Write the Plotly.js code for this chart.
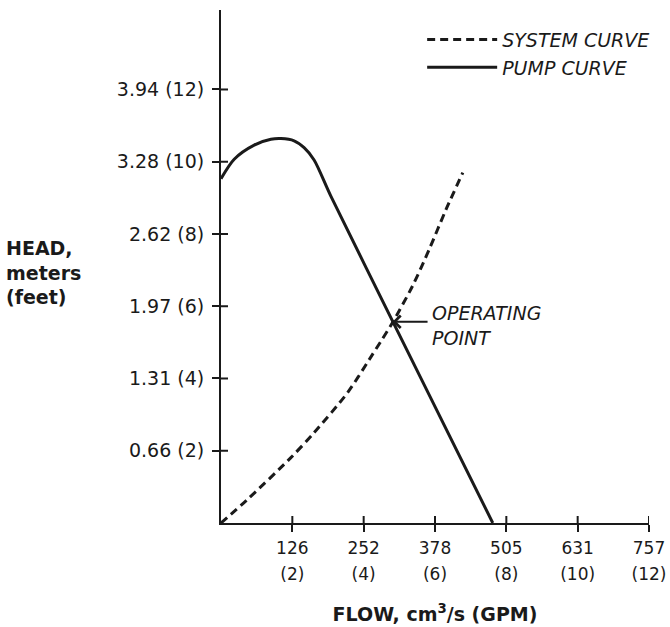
<!DOCTYPE html>
<html><head><meta charset="utf-8">
<script src="https://cdn.plot.ly/plotly-3.0.1.min.js"></script>
<style>html,body{margin:0;padding:0;background:#fff}#chart{width:670px;height:627px}</style>
</head><body><div id="chart"></div>
<script>
// ---- data (flow in GPM, head in feet) ----
const flowTickGpm = [2, 4, 6, 8, 10, 12];
const flowTickCm3s = ['126', '252', '378', '505', '631', '757'];
const flowTickGpmText = ['(2)', '(4)', '(6)', '(8)', '(10)', '(12)'];
const headTickFt = [2, 4, 6, 8, 10, 12];
const headTickText = ['0.66 (2)', '1.31 (4)', '1.97 (6)', '2.62 (8)', '3.28 (10)', '3.94 (12)'];

const systemFlow = [0, 0.74, 1.96, 2.61, 3.55, 4.16, 4.49, 4.81, 5.37, 5.84, 6.31, 6.78];
const systemHead = [0, 0.65, 1.81, 2.50, 3.61, 4.53, 5.04, 5.55, 6.56, 7.58, 8.68, 9.70];

const pumpFlow = [0, 0.37, 0.93, 1.40, 1.68, 2.05, 2.33, 2.61, 3.08, 4.81, 7.62];
const pumpHead = [9.53, 10.07, 10.46, 10.62, 10.64, 10.58, 10.39, 10.05, 9.05, 5.59, 0];

const operatingFlow = 4.81;
const operatingHead = 5.57;

const seriesNames = ['SYSTEM CURVE', 'PUMP CURVE'];

// ---- styling ----
const INK = '#1a1a1a';
const FONT = 'DejaVu Sans, Verdana, sans-serif';

const traces = [
  {
    x: systemFlow, y: systemHead, name: seriesNames[0], type: 'scatter', mode: 'lines',
    line: {color: INK, width: 3, dash: '8px,5px', shape: 'spline', smoothing: 0.8},
    legendgroup: 'a', hoverinfo: 'skip'
  },
  {
    x: pumpFlow, y: pumpHead, name: seriesNames[1], type: 'scatter', mode: 'lines',
    line: {color: INK, width: 3, shape: 'spline', smoothing: 0.8},
    legendgroup: 'b', hoverinfo: 'skip'
  },
  { x: [], y: [], xaxis: 'x2', yaxis: 'y', showlegend: false, hoverinfo: 'skip', type: 'scatter' }
];

const shapes = [];
headTickFt.forEach(v => shapes.push({
  type: 'line', xref: 'x', yref: 'y', xsizemode: 'pixel', xanchor: 0,
  x0: 0, x1: 7, y0: v, y1: v, line: {color: INK, width: 2}, layer: 'above'
}));
flowTickGpm.forEach(v => shapes.push({
  type: 'line', xref: 'x', yref: 'y', ysizemode: 'pixel', yanchor: 0,
  x0: v, x1: v, y0: 0, y1: 7, line: {color: INK, width: 2}, layer: 'above'
}));

const layout = {
  width: 670, height: 627,
  margin: {l: 221, r: 21, t: 10, b: 104},
  paper_bgcolor: '#fff', plot_bgcolor: '#fff',
  font: {family: FONT, color: INK, size: 19},
  showlegend: true,
  legend: {
    x: 0.47, xanchor: 'left', y: 0.979, yanchor: 'top',
    font: {family: FONT, size: 19, style: 'italic', color: INK},
    traceorder: 'grouped', tracegroupgap: 0, itemwidth: 70, bgcolor: 'rgba(0,0,0,0)'
  },
  xaxis: {
    range: [0, 12], showgrid: false, zeroline: false,
    showline: true, linecolor: INK, linewidth: 2,
    ticks: 'outside', ticklen: 7, tickwidth: 2, tickcolor: INK,
    tickmode: 'array', tickvals: flowTickGpm, ticktext: flowTickCm3s,
    tickfont: {family: FONT, size: 17, color: INK}, ticklabelstandoff: 2,
    title: {text: 'FLOW, cm<sup>3</sup>/s (GPM)', font: {family: FONT, size: 19, weight: 'bold', color: INK}, standoff: 50},
    fixedrange: true
  },
  xaxis2: {
    overlaying: 'x', anchor: 'y', side: 'bottom', range: [0, 12],
    showgrid: false, zeroline: false, showline: false, ticks: '',
    tickmode: 'array', tickvals: flowTickGpm, ticktext: flowTickGpmText,
    tickfont: {family: FONT, size: 17, color: INK}, ticklabelstandoff: 39,
    fixedrange: true
  },
  yaxis: {
    range: [0, 14.2], showgrid: false, zeroline: false,
    showline: true, linecolor: INK, linewidth: 2,
    ticks: 'outside', ticklen: 7, tickwidth: 2, tickcolor: INK,
    tickmode: 'array', tickvals: headTickFt, ticktext: headTickText,
    tickfont: {family: FONT, size: 19, color: INK}, ticklabelstandoff: 4,
    fixedrange: true
  },
  shapes: shapes,
  annotations: [
    {
      xref: 'paper', yref: 'paper', x: -0.506, y: 0.488, xanchor: 'left', yanchor: 'middle',
      text: 'HEAD,<br>meters<br>(feet)', align: 'left', showarrow: false,
      font: {family: FONT, size: 19, weight: 'bold', color: INK}
    },
    {
      xref: 'x', yref: 'y', x: operatingFlow, y: operatingHead,
      text: 'OPERATING<br>POINT', align: 'left', xanchor: 'left', yanchor: 'middle',
      height: 55, valign: 'bottom',
      showarrow: true, ax: 35, ay: 0, arrowhead: 4, arrowsize: 1.2, arrowwidth: 2,
      arrowcolor: INK, borderpad: 3,
      font: {family: FONT, size: 19, style: 'italic', color: INK}
    }
  ]
};

Plotly.newPlot('chart', traces, layout, {displayModeBar: false, staticPlot: true});
</script>
</body></html>
